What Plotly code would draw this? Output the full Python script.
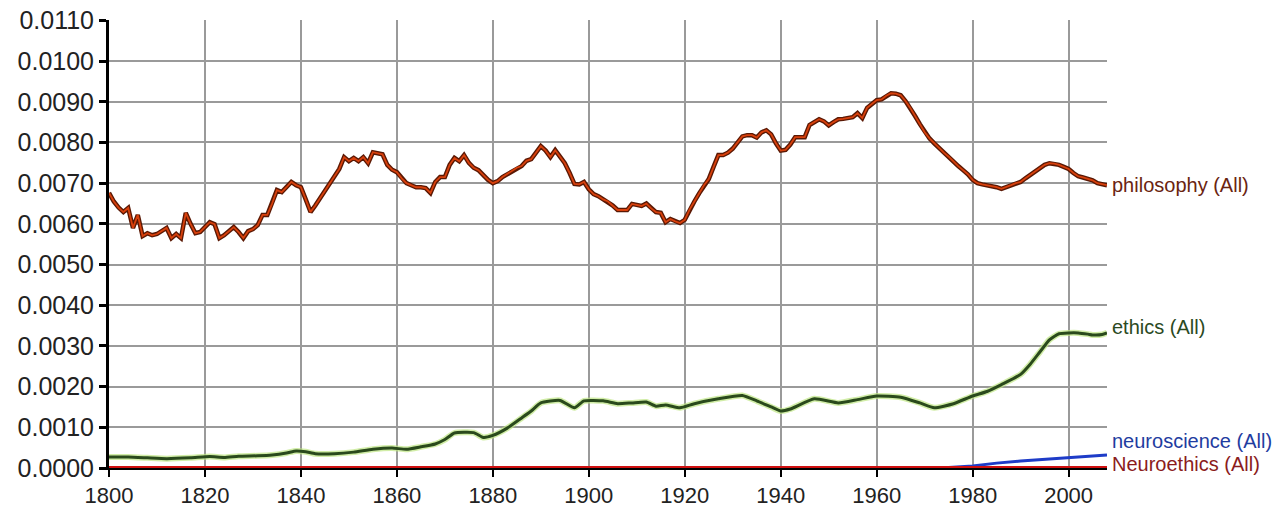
import plotly.graph_objects as go

# values in thousandths of a percent (e.g. 6.76 -> 0.00676%)
phil_years = list(range(1800, 2009))
phil_vals = [
    6.76, 6.55, 6.40, 6.29, 6.39, 5.90, 6.22, 5.70, 5.77, 5.72,
    5.75, 5.82, 5.90, 5.65, 5.75, 5.65, 6.27, 6.00, 5.77, 5.80,
    5.92, 6.04, 5.99, 5.65, 5.72, 5.82, 5.92, 5.80, 5.65, 5.82,
    5.87, 5.97, 6.22, 6.22, 6.50, 6.83, 6.78, 6.90, 7.03, 6.95,
    6.90, 6.60, 6.29, 6.45, 6.63, 6.80, 7.00, 7.15, 7.35, 7.64,
    7.54, 7.62, 7.54, 7.64, 7.49, 7.76, 7.74, 7.71, 7.45, 7.33,
    7.27, 7.12, 7.00, 6.95, 6.90, 6.90, 6.88, 6.76, 7.03, 7.15,
    7.15, 7.45, 7.62, 7.54, 7.69, 7.50, 7.38, 7.32, 7.20, 7.08,
    7.00, 7.05, 7.15, 7.22, 7.30, 7.38, 7.42, 7.55, 7.59, 7.75,
    7.91, 7.80, 7.64, 7.81, 7.65, 7.49, 7.25, 6.98, 6.97, 7.03,
    6.85, 6.73, 6.68, 6.60, 6.55, 6.45, 6.34, 6.34, 6.34, 6.49,
    6.46, 6.44, 6.50, 6.38, 6.29, 6.27, 6.04, 6.12, 6.06, 6.02,
    6.10, 6.35, 6.55, 6.75, 6.95, 7.10, 7.40, 7.69, 7.69, 7.75,
    7.85, 8.00, 8.15, 8.18, 8.18, 8.12, 8.25, 8.30, 8.20, 7.98,
    7.80, 7.82, 7.95, 8.13, 8.13, 8.13, 8.43, 8.50, 8.57, 8.52,
    8.42, 8.50, 8.57, 8.58, 8.60, 8.62, 8.72, 8.60, 8.85, 8.95,
    9.04, 9.06, 9.15, 9.21, 9.20, 9.16, 9.02, 8.85, 8.65, 8.45,
    8.25, 8.10, 7.98, 7.86, 7.75, 7.65, 7.53, 7.42, 7.32, 7.22,
    7.08, 7.00, 6.97, 6.95, 6.92, 6.90, 6.86, 6.90, 6.95, 7.00,
    7.03, 7.12, 7.20, 7.30, 7.38, 7.45, 7.49, 7.48, 7.45, 7.40,
    7.35, 7.25, 7.17, 7.14, 7.10, 7.07, 7.00, 6.98, 6.95,
]

ethics_years = [1800, 1804, 1808, 1812, 1817, 1821, 1824, 1827, 1831, 1834,
                1837, 1839, 1841, 1843, 1847, 1851, 1855, 1859, 1862, 1865,
                1868, 1870, 1872, 1876, 1878, 1880, 1883, 1886, 1888, 1890,
                1894, 1897, 1899, 1903, 1906, 1909, 1912, 1914, 1916, 1919,
                1922, 1927, 1932, 1935, 1938, 1940, 1942, 1947, 1952, 1956,
                1960, 1965, 1969, 1972, 1976, 1980, 1983, 1986, 1990, 1992,
                1994, 1996, 1998, 2000, 2002, 2004, 2005, 2007, 2008]
ethics_vals = [0.27, 0.27, 0.25, 0.23, 0.25, 0.28, 0.26, 0.29, 0.30, 0.32,
               0.37, 0.42, 0.40, 0.35, 0.35, 0.39, 0.46, 0.49, 0.46, 0.52,
               0.59, 0.70, 0.86, 0.87, 0.75, 0.80, 0.98, 1.23, 1.40, 1.60,
               1.66, 1.48, 1.65, 1.65, 1.58, 1.60, 1.62, 1.52, 1.55, 1.48,
               1.58, 1.70, 1.78, 1.65, 1.50, 1.40, 1.45, 1.70, 1.60, 1.68,
               1.77, 1.74, 1.60, 1.48, 1.58, 1.77, 1.88, 2.05, 2.30, 2.55,
               2.85, 3.15, 3.30, 3.32, 3.32, 3.29, 3.27, 3.28, 3.32]

neuro_years = [1800, 1900, 1970, 1975, 1980, 1985, 1990, 1995, 2000, 2005, 2008]
neuro_vals = [0.0, 0.0, 0.0, 0.01, 0.05, 0.12, 0.17, 0.21, 0.25, 0.30, 0.32]

neuroethics_years = [1800, 1900, 2000, 2008]
neuroethics_vals = [0.0, 0.0, 0.0, 0.0]

series_names = ["philosophy (All)", "ethics (All)", "neuroscience (All)", "Neuroethics (All)"]

y_ticks = [i / 1000 for i in range(0, 12)]
x_ticks = list(range(1800, 2001, 20))

def pct(vals):
    return [v / 1000 for v in vals]

fig = go.Figure()

# philosophy: dark outline + orange core
fig.add_trace(go.Scatter(x=phil_years, y=pct(phil_vals), mode="lines",
                         line=dict(color="#5a1804", width=4.5), hoverinfo="skip",
                         showlegend=False))
fig.add_trace(go.Scatter(x=phil_years, y=pct(phil_vals), mode="lines",
                         line=dict(color="#d8400c", width=1.8), name=series_names[0],
                         showlegend=False))
# ethics: light halo + dark green
fig.add_trace(go.Scatter(x=ethics_years, y=pct(ethics_vals), mode="lines",
                         line=dict(color="rgba(190,230,130,0.7)", width=6, shape="spline", smoothing=0.5),
                         hoverinfo="skip", showlegend=False))
fig.add_trace(go.Scatter(x=ethics_years, y=pct(ethics_vals), mode="lines",
                         line=dict(color="#2a4a1c", width=3, shape="spline", smoothing=0.5),
                         name=series_names[1], showlegend=False))
fig.add_trace(go.Scatter(x=neuro_years, y=pct(neuro_vals), mode="lines",
                         line=dict(color="#1e3cc8", width=3), name=series_names[2],
                         showlegend=False))
fig.add_trace(go.Scatter(x=neuroethics_years, y=pct(neuroethics_vals), mode="lines",
                         line=dict(color="#d01010", width=4), name=series_names[3],
                         showlegend=False))

label_font = "Liberation Sans, Arial, sans-serif"
labels = [
    (series_names[0], phil_vals[-1], 0, "#6a2410"),
    (series_names[1], ethics_vals[-1], 6, "#2b4a1f"),
    (series_names[2], neuro_vals[-1], 14, "#1f3ca0"),
    (series_names[3], neuroethics_vals[-1], 4, "#8b1c1c"),
]
for text, v, ys, col in labels:
    fig.add_annotation(x=2008, y=v / 1000, xref="x", yref="y", text=text,
                       showarrow=False, xanchor="left", yanchor="middle",
                       xshift=3, yshift=ys,
                       font=dict(family=label_font, size=20, color=col))

fig.update_layout(
    width=1286, height=508,
    margin=dict(l=109, r=179, t=20, b=40),
    paper_bgcolor="white", plot_bgcolor="white",
    font=dict(family=label_font, size=19, color="#222222"),
)
fig.update_xaxes(range=[1800, 2008], tickvals=x_ticks, automargin=False,
                 ticklabeloverflow="allow",
                 showgrid=True, gridcolor="#9a9a9a", gridwidth=2,
                 showline=True, linecolor="black", linewidth=2,
                 ticks="outside", ticklen=7, tickwidth=2, tickcolor="black",
                 zeroline=False, tickfont=dict(family=label_font, size=22, color="#222222"))
fig.update_yaxes(range=[0, 0.01101], tickvals=y_ticks, tickformat=".4f", ticksuffix="%",
                 automargin=False, ticklabeloverflow="allow",
                 showgrid=True, gridcolor="#9a9a9a", gridwidth=2,
                 showline=True, linecolor="black", linewidth=3,
                 ticks="outside", ticklen=7, tickwidth=3, tickcolor="black",
                 zeroline=False, tickfont=dict(family=label_font, size=25, color="#222222"))

fig.write_html("out.html", config={"displayModeBar": False},
               post_script="document.body.style.margin='0';document.body.style.overflow='hidden';")
